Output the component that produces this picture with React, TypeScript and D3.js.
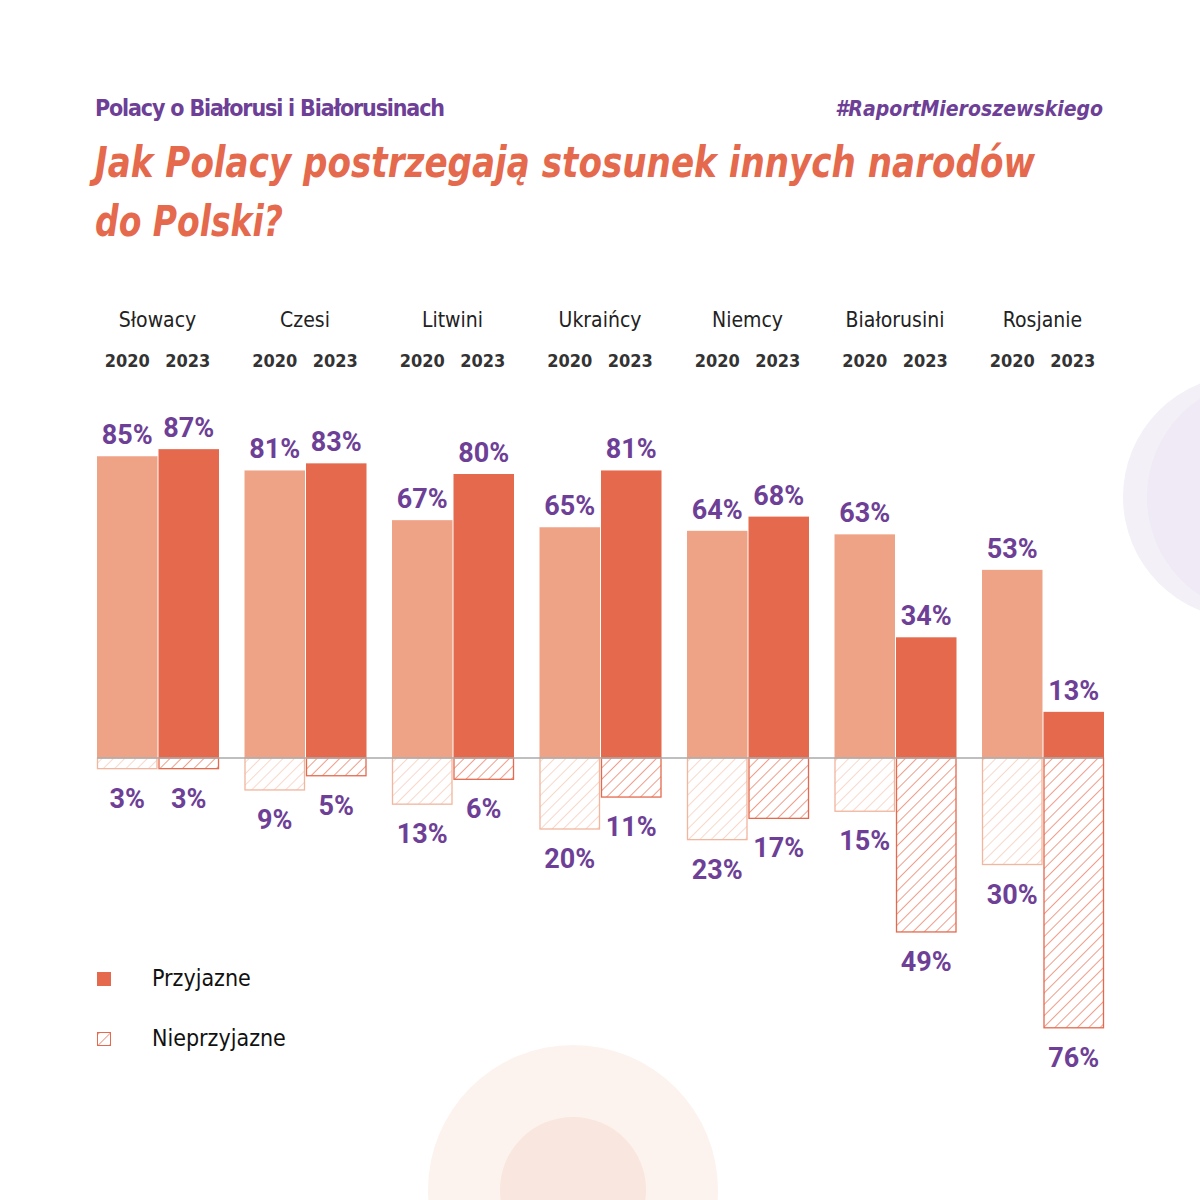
import * as d3 from 'd3';

const countries = ['Słowacy', 'Czesi', 'Litwini', 'Ukraińcy', 'Niemcy', 'Białorusini', 'Rosjanie'];
const years = ['2020', '2023'];
const friendly2020 = [85, 81, 67, 65, 64, 63, 53];
const friendly2023 = [87, 83, 80, 81, 68, 34, 13];
const hostile2020 = [3, 9, 13, 20, 23, 15, 30];
const hostile2023 = [3, 5, 6, 11, 17, 49, 76];

const PURPLE = '#6E3F96';
const ORANGE = '#E5694C';
const LIGHT = '#EFA386';
const FONT = '"DejaVu Sans Condensed", "Roboto", sans-serif';

export default function App() {
  const W = 1200, H = 1200;
  const baseY = 758;
  const groupW = 147.5;
  const barW = 60.5;
  const y = d3.scaleLinear().domain([0, 100]).range([0, 355]);
  const gx = (i: number) => 97 + i * groupW;

  const series = [
    { vals: friendly2020, neg: hostile2020, fill: LIGHT, stroke: '#F2B59D', off: 0, pat: 'h20' },
    { vals: friendly2023, neg: hostile2023, fill: ORANGE, stroke: ORANGE, off: barW + 1, pat: 'h23' },
  ];

  return (
    <svg width={W} height={H} style={{ position: 'absolute', left: 0, top: 0, background: '#fff' }}>
      <defs>
        <pattern id="h20" patternUnits="userSpaceOnUse" width="8" height="8" patternTransform="rotate(45)">
          <line x1="0" y1="0" x2="0" y2="8" stroke="#F5C3AE" strokeWidth="1.3" />
        </pattern>
        <pattern id="h23" patternUnits="userSpaceOnUse" width="8" height="8" patternTransform="rotate(45)">
          <line x1="0" y1="0" x2="0" y2="8" stroke={ORANGE} strokeWidth="1.3" />
        </pattern>
      </defs>
      <rect width={W} height={H} fill="#fff" />
      <circle cx={1245} cy={497} r={122} fill="#F3F0F7" />
      <circle cx={1265} cy={497} r={118} fill="#EFEAF5" />
      <circle cx={573} cy={1190} r={145} fill="#FCF3EF" />
      <circle cx={573} cy={1190} r={73} fill="#F9E6DE" />

      <text x={95} y={116} fill={PURPLE} fontFamily={FONT} fontSize={23} fontWeight="bold" textLength={350}>Polacy o Białorusi i Białorusinach</text>
      <text x={1103} y={116} textAnchor="end" fill={PURPLE} fontFamily={FONT} fontSize={21} fontWeight="bold" fontStyle="italic">#RaportMieroszewskiego</text>
      <text x={95} y={177} fill={ORANGE} fontFamily={FONT} fontSize={43} fontWeight="bold" fontStyle="italic" textLength={940} lengthAdjust="spacingAndGlyphs">Jak Polacy postrzegają stosunek innych narodów</text>
      <text x={95} y={236} fill={ORANGE} fontFamily={FONT} fontSize={43} fontWeight="bold" fontStyle="italic" textLength={188} lengthAdjust="spacingAndGlyphs">do Polski?</text>

      {countries.map((c, i) => (
        <g key={c}>
          <text x={gx(i) + barW} y={327} textAnchor="middle" fontFamily={FONT} fontSize={21} fill="#222">{c}</text>
          {years.map((yr, j) => (
            <text key={yr} x={gx(i) + barW / 2 + j * barW} y={367} textAnchor="middle" fontFamily={FONT} fontSize={18} fontWeight="bold" fill="#333">{yr}</text>
          ))}
        </g>
      ))}

      {series.map((s, si) => (
        <g key={si}>
          {s.vals.map((v, i) => (
            <g key={i}>
              <rect x={gx(i) + s.off} y={baseY - y(v)} width={barW} height={y(v)} fill={s.fill} />
              <text x={gx(i) + s.off + barW / 2} y={baseY - y(v) - 12} textAnchor="middle" fontFamily="Roboto, sans-serif" fontWeight="bold" fontSize={27} fill={PURPLE}>{v}%</text>
            </g>
          ))}
          {s.neg.map((v, i) => (
            <g key={'n' + i}>
              <rect x={gx(i) + s.off + 0.5} y={baseY} width={barW - 1} height={y(v)} fill={`url(#${s.pat})`} stroke={s.stroke} strokeWidth={1.3} />
              <text x={gx(i) + s.off + barW / 2} y={baseY + y(v) + 39} textAnchor="middle" fontFamily="Roboto, sans-serif" fontWeight="bold" fontSize={27} fill={PURPLE}>{v}%</text>
            </g>
          ))}
        </g>
      ))}
      <line x1={97} x2={1103} y1={baseY} y2={baseY} stroke="#AAAAAA" strokeWidth={1.5} />

      <rect x={97} y={972} width={14} height={14} fill={ORANGE} />
      <text x={152} y={986} fontFamily={FONT} fontSize={23} fill="#111">Przyjazne</text>
      <rect x={97.5} y={1032.5} width={13} height={13} fill="url(#h23)" stroke={ORANGE} strokeWidth={1} />
      <text x={152} y={1046} fontFamily={FONT} fontSize={23} fill="#111">Nieprzyjazne</text>
    </svg>
  );
}
